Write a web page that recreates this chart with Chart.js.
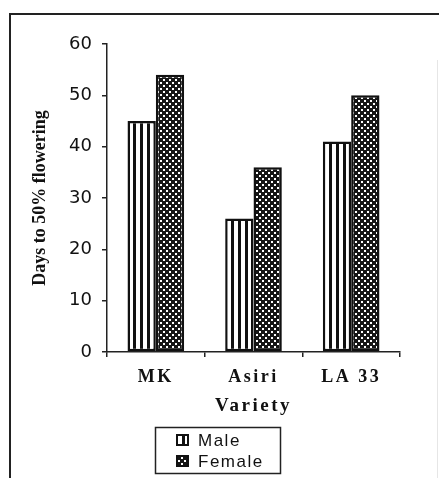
<!DOCTYPE html>
<html>
<head>
<meta charset="utf-8">
<script src="https://cdn.jsdelivr.net/npm/chart.js@4/dist/chart.umd.min.js"></script>
<style>
  html, body { margin: 0; padding: 0; background: #fff; }
  #c { display: block; }
</style>
</head>
<body>
<canvas id="c" width="439" height="478"></canvas>
<script>
// ---- data ----
const categories = ["MK", "Asiri", "LA 33"];
const maleValues = [45, 26, 41];
const femaleValues = [54, 36, 50];
const seriesNames = ["Male", "Female"];
const yTicks = [0, 10, 20, 30, 40, 50, 60];
const xTitle = "Variety";
const yTitle = "Days to 50% flowering";

// ---- patterns ----
function stripePattern() {
  const c = document.createElement('canvas');
  c.width = 7; c.height = 4;
  const g = c.getContext('2d');
  g.fillStyle = '#fff'; g.fillRect(0, 0, 7, 4);
  g.fillStyle = '#111'; g.fillRect(0, 0, 3, 4);
  return g.createPattern(c, 'repeat');
}
function dotPattern() {
  const c = document.createElement('canvas');
  c.width = 6; c.height = 6;
  const g = c.getContext('2d');
  g.fillStyle = '#161616'; g.fillRect(0, 0, 6, 6);
  g.fillStyle = '#fff';
  g.fillRect(1, 1, 2, 2);
  g.fillRect(4, 4, 2, 2);
  return g.createPattern(c, 'repeat');
}
const malePat = stripePattern();
const femalePat = dotPattern();

const frameAndLegend = {
  id: 'frameAndLegend',
  beforeDraw(chart) {
    const ctx = chart.ctx;
    ctx.save();
    ctx.strokeStyle = '#222';
    ctx.lineWidth = 2;
    ctx.beginPath();
    ctx.moveTo(10, 478);
    ctx.lineTo(10, 14);
    ctx.lineTo(439, 14);
    ctx.stroke();
    ctx.strokeStyle = '#e6e6e6';
    ctx.lineWidth = 1;
    ctx.beginPath();
    ctx.moveTo(437.5, 60);
    ctx.lineTo(437.5, 478);
    ctx.stroke();
    ctx.restore();
  },
  afterDatasetsDraw(chart) {
    chart.ctx.letterSpacing = '2.5px';
  },
  afterDraw(chart) {
    const ctx = chart.ctx;
    ctx.letterSpacing = '0px';
    ctx.save();
    const bx = 155.5, by = 427.5, bw = 125, bh = 46;
    ctx.strokeStyle = '#222';
    ctx.lineWidth = 1.5;
    ctx.strokeRect(bx, by, bw, bh);
    const pats = [malePat, femalePat];
    ctx.font = '17px "Liberation Sans", Arial, sans-serif';
    ctx.letterSpacing = '1.5px';
    ctx.textBaseline = 'middle';
    chart.data.datasets.forEach((ds, i) => {
      const cy = 440 + i * 21;
      ctx.fillStyle = pats[i];
      ctx.fillRect(177, cy - 5, 11, 10);
      ctx.strokeStyle = '#111';
      ctx.lineWidth = 2;
      ctx.strokeRect(177, cy - 5, 11, 10);
      ctx.fillStyle = '#111';
      ctx.fillText(ds.label, 198, cy + 1);
    });
    ctx.letterSpacing = '0px';
    ctx.restore();
  }
};

new Chart(document.getElementById('c'), {
  type: 'bar',
  data: {
    labels: categories,
    datasets: [
      { label: seriesNames[0], data: maleValues, backgroundColor: malePat, borderColor: '#111', borderWidth: 2.5, borderSkipped: false },
      { label: seriesNames[1], data: femaleValues, backgroundColor: femalePat, borderColor: '#111', borderWidth: 2.5, borderSkipped: false }
    ]
  },
  plugins: [frameAndLegend],
  options: {
    responsive: false,
    animation: false,
    devicePixelRatio: 1,
    layout: { padding: { left: 20, right: 39, top: 44, bottom: 61 } },
    plugins: {
      legend: { display: false },
      tooltip: { enabled: false }
    },
    datasets: { bar: { categoryPercentage: 0.58, barPercentage: 1.0 } },
    scales: {
      x: {
        afterFit: (s) => { s.height = 65; },
        grid: { drawOnChartArea: false, drawTicks: true, tickLength: 5, tickColor: '#222', lineWidth: 1.5, z: 1 },
        border: { display: true, color: '#222', width: 1.5, z: 1 },
        ticks: { color: '#111', padding: 10, z: 1, font: { family: '"Liberation Serif", "Times New Roman", serif', size: 18, weight: 'bold' } },
        title: { display: true, text: xTitle, color: '#111', padding: { top: 0, bottom: 0 }, font: { family: '"Liberation Serif", "Times New Roman", serif', size: 19, weight: 'bold' } }
      },
      y: {
        min: 0, max: 60,
        afterFit: (s) => { s.width = 87; },
        afterBuildTicks: (s) => { s.ticks = yTicks.map(v => ({ value: v })); },
        grid: { drawOnChartArea: false, drawTicks: true, tickLength: 5, tickColor: '#222', lineWidth: 1.5 },
        border: { display: true, color: '#222', width: 1.5 },
        ticks: { color: '#111', padding: 10, font: { family: '"DejaVu Sans", sans-serif', size: 18 } },
        title: { display: true, text: yTitle, color: '#111', padding: { top: 10, bottom: 0 }, font: { family: '"Liberation Serif", "Times New Roman", serif', size: 18, weight: 'bold' } }
      }
    }
  }
});
</script>
</body>
</html>
